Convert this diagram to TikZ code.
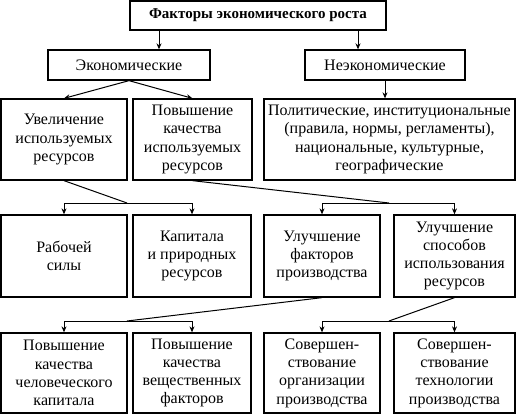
\documentclass[tikz,border=0pt]{standalone}
\usepackage{fontspec}
\setmainfont{Liberation Serif}
\usetikzlibrary{arrows.meta,calc}
\begin{document}
\begin{tikzpicture}[x=1pt,y=-1pt,
  box/.style={draw,line width=1.3pt,inner sep=0pt,align=center,font=\fontsize{16}{18.3}\selectfont},
  arr/.style={line width=1pt,-{Stealth[length=6pt,width=5pt]}},
  ln/.style={line width=1pt}]
\useasboundingbox (0,0) rectangle (516,414);
% row 0
\node[box,minimum width=256pt,minimum height=29pt,font=\fontsize{15}{17}\selectfont\bfseries] (title) at (258,15.5) {Факторы экономического роста};
% row 1
\node[box,minimum width=162pt,minimum height=30pt] (econ) at (129,65) {Экономические};
\node[box,minimum width=160pt,minimum height=30pt] (nonecon) at (385,65) {Неэкономические};
% row 2
\node[box,minimum width=126pt,minimum height=81pt] (r2a) at (64,139.5) {Увеличение\\используемых\\ресурсов};
\node[box,minimum width=119pt,minimum height=81pt] (r2b) at (192.5,139.5) {Повышение\\качества\\используемых\\ресурсов};
\node[box,minimum width=251pt,minimum height=81pt] (r2c) at (389.5,139.5) {Политические, институциональные\\(правила, нормы, регламенты),\\национальные, культурные,\\географические};
% row 3
\node[box,minimum width=126pt,minimum height=82pt] (r3a) at (64,256) {Рабочей\\силы};
\node[box,minimum width=118pt,minimum height=82pt] (r3b) at (192,256) {Капитала\\и природных\\ресурсов};
\node[box,minimum width=116pt,minimum height=82pt] (r3c) at (322,256) {Улучшение\\факторов\\производства};
\node[box,minimum width=121pt,minimum height=82pt] (r3d) at (454.5,256) {Улучшение\\способов\\использования\\ресурсов};
% row 4
\node[box,minimum width=126pt,minimum height=80pt] (r4a) at (64,373) {Повышение\\качества\\человеческого\\капитала};
\node[box,minimum width=118pt,minimum height=80pt] (r4b) at (192,373) {Повышение\\качества\\вещественных\\факторов};
\node[box,minimum width=116pt,minimum height=80pt] (r4c) at (322,373) {Совершен-\\ствование\\организации\\производства};
\node[box,minimum width=121pt,minimum height=80pt] (r4d) at (454.5,373) {Совершен-\\ствование\\технологии\\производства};
% helper coordinates
\coordinate (tl) at (159,0);
\coordinate (tr) at (358,0);
\coordinate (j1) at (127,203);
\coordinate (j2) at (389,203);
\coordinate (j3) at (127,321);
\coordinate (j4) at (389,321);
% connectors
\draw[arr] (title.south -| tl) -- (econ.north -| tl);
\draw[arr] (title.south -| tr) -- (nonecon.north -| tr);
\draw[arr] (econ.south) -- (r2a.north);
\draw[arr] (econ.south) -- (r2b.north);
\draw[arr] (nonecon.south) -- (nonecon.south |- r2c.north);
\draw[ln] (r2a.south) -- (j1);
\draw[arr] (j1) -| (r3a.north);
\draw[arr] (j1) -| (r3b.north);
\draw[ln] (r2b.south) -- (j2);
\draw[arr] (j2) -| (r3c.north);
\draw[arr] (j2) -| (r3d.north);
\draw[ln] (r3c.south) -- (j3);
\draw[arr] (j3) -| (r4a.north);
\draw[arr] (j3) -| (r4b.north);
\draw[ln] (r3d.south) -- (j4);
\draw[arr] (j4) -| (r4c.north);
\draw[arr] (j4) -| (r4d.north);
\end{tikzpicture}
\end{document}
